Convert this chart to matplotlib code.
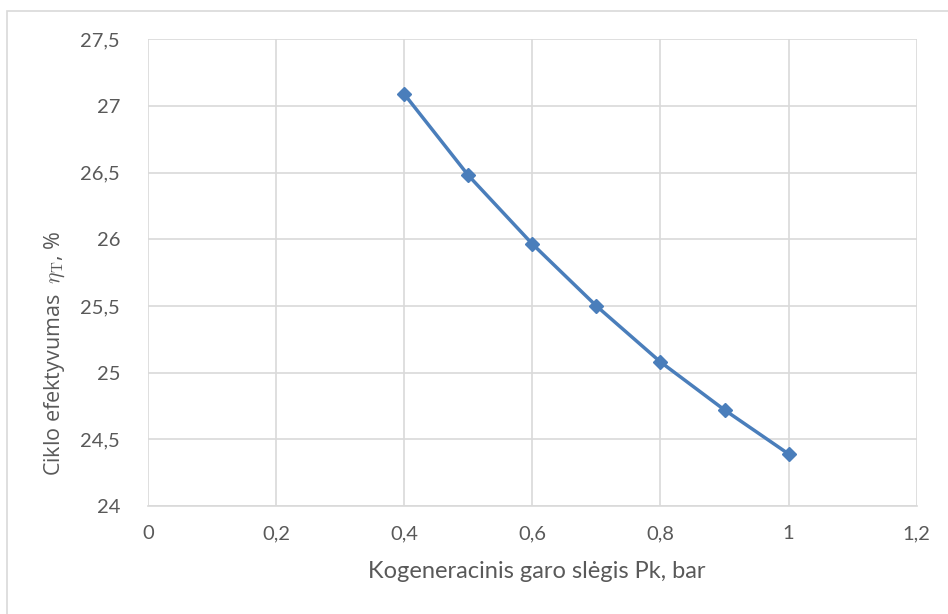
import matplotlib
matplotlib.use('Agg')
import matplotlib.pyplot as plt
from matplotlib.ticker import FuncFormatter
from matplotlib.patches import Rectangle

plt.rcParams['mathtext.fontset'] = 'cm'

# Data
pressure = [0.4, 0.5, 0.6, 0.7, 0.8, 0.9, 1.0]
efficiency = [27.09, 26.48, 25.965, 25.50, 25.08, 24.72, 24.39]

x_ticks = [0, 0.2, 0.4, 0.6, 0.8, 1.0, 1.2]
y_ticks = [24, 24.5, 25, 25.5, 26, 26.5, 27, 27.5]

blue = '#4A7EBB'
grid_col = '#D9D9D9'
text_col = '#595959'

fig = plt.figure(figsize=(9.48, 6.14), dpi=100)
ax = fig.add_axes([0.156, 0.176, 0.811, 0.760])

# Outer chart border
fig.patches.append(Rectangle((0.007, -0.01), 0.995, 0.992, transform=fig.transFigure,
                             fill=False, edgecolor=grid_col, linewidth=1.2))

ax.plot(pressure, efficiency, color=blue, linewidth=2.5, marker='D',
        markersize=7.5, markerfacecolor=blue, markeredgecolor=blue, zorder=3)

ax.set_xlim(0, 1.2)
ax.set_ylim(24, 27.5)
ax.set_xticks(x_ticks)
ax.set_yticks(y_ticks)

def comma(v, pos):
    return ('%g' % v).replace('.', ',')

ax.xaxis.set_major_formatter(FuncFormatter(comma))
ax.yaxis.set_major_formatter(FuncFormatter(comma))

ax.grid(True, color=grid_col, linewidth=1.2)
ax.set_axisbelow(True)
for side in ['top', 'right', 'left']:
    ax.spines[side].set_visible(False)
ax.spines['bottom'].set_color(grid_col)
ax.spines['bottom'].set_linewidth(1.2)
ax.tick_params(length=0, colors=text_col, labelsize=14.5)
ax.tick_params(axis='x', pad=14)
ax.tick_params(axis='y', pad=20)
for lab in ax.get_xticklabels() + ax.get_yticklabels():
    lab.set_fontfamily('Lato')

# Axis titles placed like the original
fig.text(537 / 948, 1 - 572 / 614, 'Kogeneracinis garo slėgis Pk, bar', fontsize=17,
         color=text_col, family='Lato', ha='center', va='center')
fig.text(55 / 948, 1 - 476 / 614, r'Ciklo efektyvumas  $\eta_{\mathrm{T}}$, %', fontsize=15.5,
         color=text_col, family='Open Sans', rotation=90, ha='center', va='bottom')

fig.savefig('out.png', dpi=100, facecolor='white')
